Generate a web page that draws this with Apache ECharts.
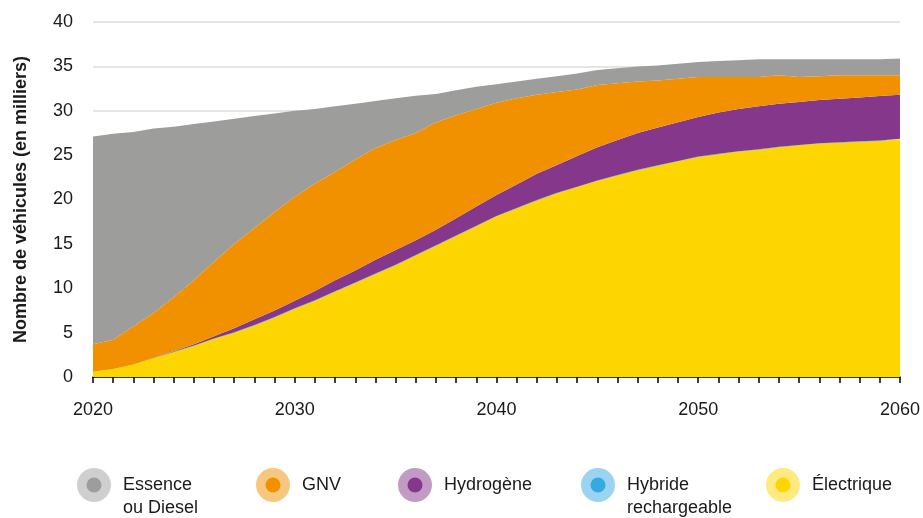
<!DOCTYPE html>
<html><head><meta charset="utf-8">
<script src="https://cdn.jsdelivr.net/npm/echarts@6/dist/echarts.min.js"></script>
<style>html,body{margin:0;padding:0;background:#fff}#c{width:923px;height:518px}</style>
</head><body><div id="c"></div>
<script>
const years = [];
for (let y = 2020; y <= 2060; y++) years.push(String(y));

const electrique = [0.6,0.9,1.4,2.1,2.8,3.5,4.3,5.0,5.8,6.7,7.7,8.6,9.6,10.6,11.6,12.6,13.7,14.8,15.9,17.0,18.1,19.0,19.9,20.7,21.4,22.1,22.7,23.3,23.8,24.3,24.8,25.1,25.4,25.6,25.9,26.1,26.3,26.4,26.5,26.6,26.8];
const hybride = [0,0,0,0.05,0.05,0.05,0.05,0.05,0.05,0.05,0.05,0.05,0.05,0.05,0.05,0.05,0.05,0.05,0.05,0.05,0.05,0.05,0.05,0.05,0.05,0.05,0.05,0.05,0.05,0.05,0.05,0.05,0.05,0.05,0.05,0.05,0.05,0.05,0.05,0.05,0.05];
const hydrogene = [0,0,0,0,0.05,0.15,0.25,0.45,0.65,0.75,0.85,1.05,1.25,1.35,1.55,1.65,1.65,1.75,1.95,2.15,2.35,2.65,2.95,3.15,3.45,3.75,3.95,4.15,4.25,4.35,4.45,4.65,4.75,4.85,4.85,4.85,4.85,4.9,4.95,5.0,4.95];
const gnv = [3.1,3.3,4.3,5.05,6.1,7.2,8.4,9.5,10.3,11.1,11.7,12.1,12.2,12.5,12.6,12.4,12.1,12.1,11.6,11.0,10.4,9.7,8.9,8.2,7.5,7.0,6.4,5.8,5.3,4.9,4.5,4.0,3.6,3.3,3.2,2.8,2.7,2.65,2.5,2.35,2.2];
const essence = [23.4,23.2,21.9,20.8,19.2,17.6,15.8,14.1,12.6,11.1,9.7,8.4,7.4,6.3,5.3,4.7,4.2,3.2,2.8,2.5,2.1,1.9,1.8,1.8,1.8,1.7,1.7,1.7,1.7,1.7,1.7,1.8,1.9,2.0,1.8,2.0,1.9,1.8,1.8,1.8,1.9];

const yTicks = [0,5,10,15,20,25,30,35,40];
const legendNames = [['Essence','ou Diesel'],['GNV'],['Hydrogène'],['Hybride','rechargeable'],['Électrique']];
const colors = ['#9d9d9c','#f29100','#84378b','#36a9e1','#fdd500'];
const haloColors = ['#cfcfcf','#f8c77f','#c29bc5','#9ad4f0','#feea80'];

const FONT = '"Liberation Sans", Arial, sans-serif';

function mk(name, data, color) {
  return {
    name, type: 'line', stack: 'total', data, symbol: 'none',
    lineStyle: { width: 0 }, areaStyle: { color, opacity: 1 }, itemStyle: { color },
    emphasis: { disabled: true }, silent: true
  };
}

const legendX = [94, 273, 415, 598, 783];
const graphics = [];
legendNames.forEach((lines, i) => {
  const cx = legendX[i], cy = 485;
  graphics.push({ type: 'circle', shape: { cx, cy, r: 17 }, style: { fill: haloColors[i] } });
  graphics.push({ type: 'circle', shape: { cx, cy, r: 7.5 }, style: { fill: colors[i] } });
  graphics.push({ type: 'text', x: cx + 29, y: cy - 11,
    style: { text: lines.join('\n'), fill: '#1a1a1a', font: '18px ' + FONT, lineHeight: 23, textVerticalAlign: 'top' } });
});

const chart = echarts.init(document.getElementById('c'));
chart.setOption({
  animation: false,
  grid: { left: 93, right: 20, top: 22, bottom: 141, containLabel: false },
  xAxis: {
    type: 'category', data: years, boundaryGap: false,
    axisLine: { lineStyle: { color: '#000', width: 1.5 } },
    axisTick: { show: true, interval: 0, length: 6, lineStyle: { color: '#000', width: 1.5 } },
    axisLabel: { interval: 9, color: '#1a1a1a', fontSize: 18, fontFamily: FONT, margin: 24 },
    splitLine: { show: false }
  },
  yAxis: {
    type: 'value', min: 0, max: 40, interval: 5,
    name: 'Nombre de véhicules (en milliers)', nameLocation: 'middle', nameGap: 63, nameRotate: 90,
    nameTextStyle: { fontSize: 18, fontWeight: 'bold', fontFamily: FONT, color: '#1a1a1a' },
    axisLine: { show: false }, axisTick: { show: false },
    axisLabel: { color: '#1a1a1a', fontSize: 18, fontFamily: FONT, margin: 20,
      formatter: v => yTicks.includes(v) ? String(v) : '' },
    splitLine: { lineStyle: { color: '#dcdcdc', width: 1.5 } }
  },
  series: [
    mk('Électrique', electrique, colors[4]),
    mk('Hybride rechargeable', hybride, colors[3]),
    mk('Hydrogène', hydrogene, colors[2]),
    mk('GNV', gnv, colors[1]),
    mk('Essence ou Diesel', essence, colors[0])
  ],
  graphic: graphics
});
</script></body></html>
